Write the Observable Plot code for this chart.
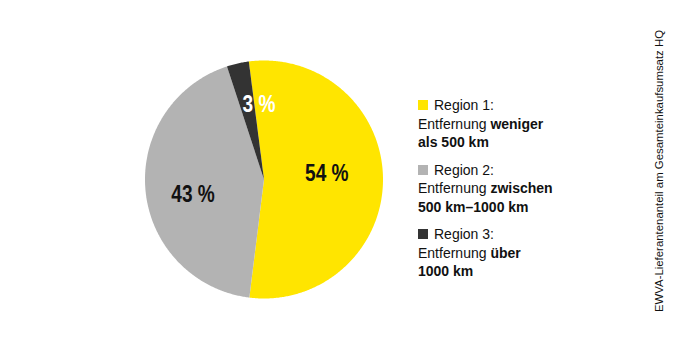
<!DOCTYPE html>
<html>
<head>
<meta charset="utf-8">
<script src="https://cdn.jsdelivr.net/npm/d3@7"></script>
<script src="https://cdn.jsdelivr.net/npm/@observablehq/plot@0.6"></script>
<style>
  html, body { margin: 0; padding: 0; background: #fff; }
  #wrap { position: relative; width: 680px; height: 350px; overflow: hidden; font-family: "Liberation Sans", Arial, sans-serif; }
  #legend { position: absolute; left: 418px; top: 96px; font-size: 14px; line-height: 18.5px; color: #111; }
  .item { margin-bottom: 9px; }
  .item .sw { display: inline-block; width: 10px; height: 10px; margin-right: 6px; vertical-align: 0px; }
  .item b { font-weight: bold; }
  #caption { position: absolute; left: 659px; top: 171px; transform: translate(-50%, -50%) rotate(-90deg); white-space: nowrap; font-size: 11.4px; color: #111; }
</style>
</head>
<body>
<div id="wrap"></div>
<script>
const regions = ["Region 1", "Region 2", "Region 3"];
const shares = [54, 43, 3];
const sliceLabels = ["54 %", "43 %", "3 %"];
const colors = ["#FFE500", "#B3B3B3", "#333333"];
const labelColors = ["#111111", "#111111", "#ffffff"];
const legendLead = "Entfernung";
const legendBoldA = ["weniger", "zwischen", "über"];
const legendBoldB = ["als 500 km", "500 km–1000 km", "1000 km"];
const captionText = "EWVA-Lieferantenanteil am Gesamteinkaufsumsatz HQ";

// layout (code, not data)
const cx = 263.5, cy = 179, R = 119;
const startAngle = -7.33 * Math.PI / 180;
const labelRadius = [0.53, 0.61, 0.63];
const labelTurn = [-5.3, -6.7, 8.9];

const arcs = d3.pie().sort(null).value(d => d).startAngle(startAngle).endAngle(startAngle + 2 * Math.PI)(shares);

const pts = [];
arcs.forEach((a, i) => {
  pts.push({region: regions[i], x: 0, y: 0});
  const n = Math.max(2, Math.ceil((a.endAngle - a.startAngle) / (Math.PI / 360)));
  for (let k = 0; k <= n; k++) {
    const t = a.startAngle + (a.endAngle - a.startAngle) * k / n;
    pts.push({region: regions[i], x: Math.sin(t), y: Math.cos(t)});
  }
  pts.push({region: regions[i], x: 0, y: 0});
});

const labelData = arcs.map((a, i) => {
  const t = (a.startAngle + a.endAngle) / 2 + labelTurn[i] * Math.PI / 180;
  return {region: regions[i], label: sliceLabels[i], color: labelColors[i], x: labelRadius[i] * Math.sin(t), y: labelRadius[i] * Math.cos(t)};
});

const chart = Plot.plot({
  width: 680,
  height: 350,
  margin: 0,
  x: {domain: [-1, 1], range: [cx - R, cx + R], axis: null},
  y: {domain: [-1, 1], range: [cy + R, cy - R], axis: null},
  color: {domain: regions, range: colors},
  style: {background: "white", fontFamily: "'Liberation Sans', Arial, sans-serif"},
  marks: [
    Plot.line(pts, {x: "x", y: "y", z: "region", fill: "region", stroke: "none", curve: "linear"}),
    Plot.text(labelData, {x: "x", y: "y", text: "label", fill: "color", fontSize: 23, fontWeight: "bold", className: "slice-label"})
  ]
});

// condense the slice labels horizontally (the reference uses a condensed face)
chart.querySelectorAll(".slice-label text").forEach(t => {
  const tr = t.getAttribute("transform");
  if (tr) t.setAttribute("transform", tr + " scale(0.83,1)");
});

const wrap = document.getElementById("wrap");
wrap.appendChild(chart);

const legend = document.createElement("div");
legend.id = "legend";
regions.forEach((r, i) => {
  const it = document.createElement("div");
  it.className = "item";
  it.innerHTML = `<div><span class="sw" style="background:${colors[i]}"></span>${r}:</div>` +
    `<div>${legendLead} <b>${legendBoldA[i]}</b></div><div><b>${legendBoldB[i]}</b></div>`;
  legend.appendChild(it);
});
wrap.appendChild(legend);

const cap = document.createElement("div");
cap.id = "caption";
cap.textContent = captionText;
wrap.appendChild(cap);
</script>
</body>
</html>
